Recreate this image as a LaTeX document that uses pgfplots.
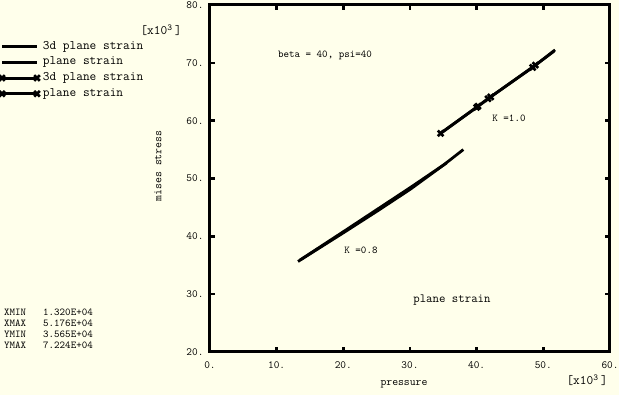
\documentclass[border=0pt]{standalone}
\usepackage{pgfplots}
\pgfplotsset{compat=1.18}
\renewcommand{\familydefault}{\ttdefault}
\definecolor{bgcol}{RGB}{255,255,235}
\newcommand{\fs}[1]{\fontsize{#1}{#1}\selectfont}
\begin{document}
\begin{tikzpicture}
\fill[bgcol,use as bounding box] (-210pt,-43pt) rectangle (409pt,352pt);
\begin{axis}[
  scale only axis, width=400pt, height=347pt,
  xmin=0, xmax=60, ymin=20, ymax=80,
  xtick={0,10,20,30,40,50,60}, xticklabels={0.,10.,20.,30.,40.,50.,60.},
  ytick={20,30,40,50,60,70,80}, yticklabels={20.,30.,40.,50.,60.,70.,80.},
  tick align=inside, major tick length=5pt,
  axis line style={line width=3pt},
  every tick/.style={black, line width=2.5pt},
  ticklabel style={font=\fs{11}},
  xticklabel style={yshift=-6pt},
  yticklabel style={xshift=-3pt},
  legend style={draw=none, fill=none, at={(axis description cs:-0.5275,0.8935)}, anchor=north west,
    inner sep=0pt, row sep=6.7pt, font=\fs{13},
    nodes={inner sep=0pt, text height=7pt, text depth=2pt},
    /tikz/column 1/.style={column sep=3pt}},
  legend cell align=left,
  legend image code/.code={\draw[#1] plot coordinates {(0pt,0pt)(35pt,0pt)};},
  clip=false,
]
\addlegendimage{black, line width=3pt}
\addlegendentry{3d plane strain}
\addlegendimage{black, line width=3pt}
\addlegendentry{plane strain}
\addlegendimage{black, line width=3pt, mark=x, mark size=4pt, mark options={line width=2.6pt}}
\addlegendentry{3d plane strain}
\addlegendimage{black, line width=3pt, mark=x, mark size=4pt, mark options={line width=2.6pt}}
\addlegendentry{plane strain}
\addplot[black, line width=2.8pt, forget plot] coordinates {(13.2,35.65) (20,40.6) (25,44.3) (30,48.1) (35,52.3) (38.0,55.0)};
\addplot[black, line width=2.8pt, forget plot] coordinates {(13.5,35.9) (20,40.8) (25,44.6) (30,48.4) (35.5,52.7)};
\addplot[black, line width=2.8pt, mark=x, mark size=4pt, mark options={line width=2.6pt}, mark indices={1,2,3,4}, forget plot]
  coordinates {(34.6,57.8) (40.0,62.3) (41.7,63.8) (48.4,69.2) (51.76,72.24)};
\addplot[black, line width=2.8pt, mark=x, mark size=4pt, mark options={line width=2.6pt}, mark indices={2,3,4}, forget plot]
  coordinates {(34.8,58.0) (40.2,62.5) (42.1,64.1) (48.8,69.6) (51.6,72.0)};
\node[font=\fs{10.5}] at (axis cs:17.25,71.2) {beta = 40, psi=40};
\node[font=\fs{10.5}] at (axis cs:44.85,60.46) {K =1.0};
\node[font=\fs{10.5}] at (axis cs:22.65,37.6) {K =0.8};
\node[font=\fs{12.5}] at (axis cs:36.3,29.0) {plane strain};
\end{axis}
\node[font=\fs{13}] at (-49pt,322pt) {[x10\textsuperscript{3}\,]};
\node[font=\fs{13}] at (377pt,-28pt) {[x10\textsuperscript{3}\,]};
\node[font=\fs{11.4}] at (194pt,-32pt) {pressure};
\node[font=\fs{11.5}, rotate=90] at (-52pt,186pt) {mises stress};
\node[font=\fs{10.5}, anchor=west, inner sep=0pt] at (-206pt,39.5pt) {XMIN};
\node[font=\fs{10.5}, anchor=west, inner sep=0pt] at (-206pt,29pt) {XMAX};
\node[font=\fs{10.5}, anchor=west, inner sep=0pt] at (-206pt,17.5pt) {YMIN};
\node[font=\fs{10.5}, anchor=west, inner sep=0pt] at (-206pt,7pt) {YMAX};
\node[font=\fs{10.5}, anchor=west, inner sep=0pt] at (-167pt,39.5pt) {1.320E+04};
\node[font=\fs{10.5}, anchor=west, inner sep=0pt] at (-167pt,29pt) {5.176E+04};
\node[font=\fs{10.5}, anchor=west, inner sep=0pt] at (-167pt,17.5pt) {3.565E+04};
\node[font=\fs{10.5}, anchor=west, inner sep=0pt] at (-167pt,7pt) {7.224E+04};
\end{tikzpicture}
\end{document}
